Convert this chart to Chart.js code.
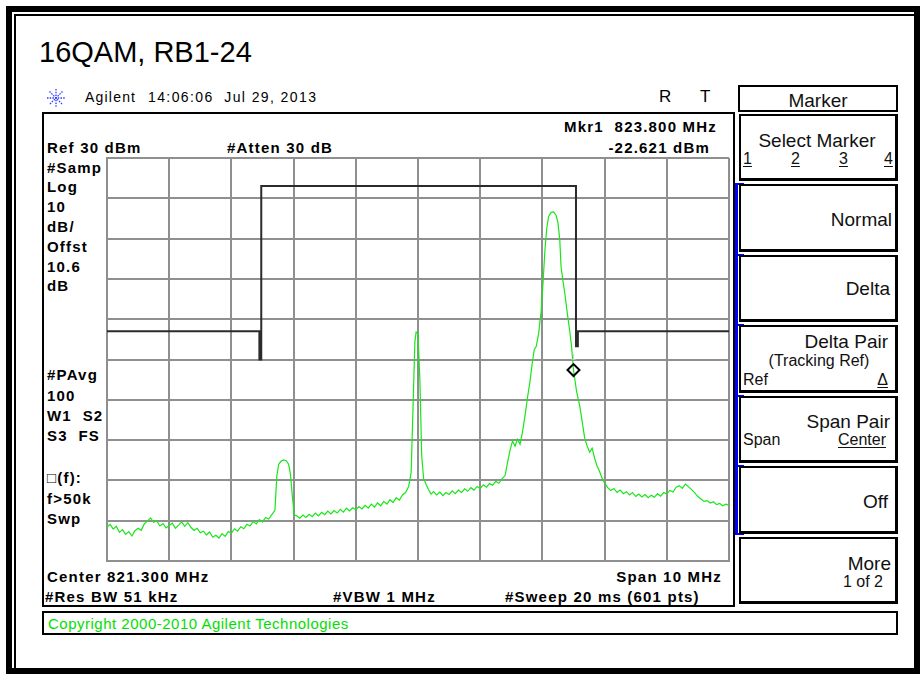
<!DOCTYPE html>
<html>
<head>
<meta charset="utf-8">
<script src="https://cdn.jsdelivr.net/npm/chart.js@4.4.1/dist/chart.umd.min.js"></script>
<style>
html, body { margin: 0; padding: 0; background: #fff; }
#page { position: relative; width: 922px; height: 674px; overflow: hidden; font-family: "Liberation Sans", Arial, sans-serif; color: #000; }
.t { position: absolute; white-space: pre; line-height: 1; }
.b { font-weight: bold; font-size: 15px; letter-spacing: 1.2px; }
.k { font-size: 19px; color: #111; }
.s { font-size: 16px; color: #111; }
.box { position: absolute; box-sizing: border-box; border: 2px solid #000; }
.key { position: absolute; box-sizing: border-box; border: 2px solid #000; border-right-width: 3px; border-bottom-width: 3px; }
.tick { position: absolute; background: #0000ff; height: 2px; width: 9px; left: 735px; }
u { text-decoration: underline; text-underline-offset: 2px; }
#chartWrap { position: absolute; left: 99px; top: 150px; width: 638px; height: 419px; }
</style>
</head>
<body>
<div id="page">
  <!-- outer frame -->
  <div class="box" style="left:6px;top:6px;width:914px;height:668px;border-width:6px;"></div>
  <div style="position:absolute;left:14px;top:14px;width:898px;height:652px;border-left:2px solid #000;border-top:2px solid #000;"></div>

  <div class="t" style="left:39px;top:38px;font-size:29px;">16QAM, RB1-24</div>

  <svg style="position:absolute;left:46px;top:88px" width="20" height="20" viewBox="0 0 20 20">
    <g stroke="#2a3cff" stroke-width="1.3" stroke-dasharray="1.5 1.2" fill="none">
      <line x1="10" y1="1" x2="10" y2="19"/><line x1="1" y1="10" x2="19" y2="10"/>
      <line x1="3.5" y1="3.5" x2="16.5" y2="16.5"/><line x1="16.5" y1="3.5" x2="3.5" y2="16.5"/>
    </g>
  </svg>
  <div class="t" style="left:85px;top:90px;font-size:14px;letter-spacing:1.2px;">Agilent</div>
  <div class="t" style="left:148px;top:90px;font-size:14px;letter-spacing:1.4px;">14:06:06  Jul 29, 2013</div>
  <div class="t" style="left:659px;top:88px;font-size:17px;">R</div>
  <div class="t" style="left:700px;top:88px;font-size:17px;">T</div>

  <!-- instrument screen -->
  <div class="box" style="left:42px;top:112px;width:693px;height:495px;"></div>
  <div class="t b" style="left:47px;top:140px;">Ref 30 dBm</div>
  <div class="t b" style="left:227px;top:140px;">#Atten 30 dB</div>
  <div class="t b" style="right:205px;top:119px;">Mkr1  823.800 MHz</div>
  <div class="t b" style="right:212px;top:140px;">-22.621 dBm</div>

  <div class="t b" style="left:47px;top:160px;">#Samp</div>
  <div class="t b" style="left:47px;top:179px;">Log</div>
  <div class="t b" style="left:47px;top:199px;">10</div>
  <div class="t b" style="left:47px;top:219px;">dB/</div>
  <div class="t b" style="left:47px;top:239px;">Offst</div>
  <div class="t b" style="left:47px;top:259px;">10.6</div>
  <div class="t b" style="left:47px;top:278px;">dB</div>
  <div class="t b" style="left:47px;top:367px;">#PAvg</div>
  <div class="t b" style="left:47px;top:388px;">100</div>
  <div class="t b" style="left:47px;top:408px;">W1  S2</div>
  <div class="t b" style="left:47px;top:428px;">S3  FS</div>
  <div class="t b" style="left:47px;top:470px;">□(f):</div>
  <div class="t b" style="left:47px;top:491px;">f&gt;50k</div>
  <div class="t b" style="left:47px;top:511px;">Swp</div>

  <div class="t b" style="left:47px;top:569px;">Center 821.300 MHz</div>
  <div class="t b" style="right:200px;top:569px;">Span 10 MHz</div>
  <div class="t b" style="left:45px;top:589px;">#Res BW 51 kHz</div>
  <div class="t b" style="left:333px;top:589px;">#VBW 1 MHz</div>
  <div class="t b" style="left:505px;top:589px;">#Sweep 20 ms (601 pts)</div>

  <div class="box" style="left:42px;top:611px;width:856px;height:24px;"></div>
  <div class="t" style="left:48px;top:616px;font-size:15px;letter-spacing:0.5px;color:#00e000;">Copyright 2000-2010 Agilent Technologies</div>

  <!-- softkeys -->
  <div class="box" style="left:738px;top:85px;width:160px;height:27px;"></div>
  <div class="t k" style="left:738px;width:160px;text-align:center;top:91px;">Marker</div>

  <div class="key" style="left:739px;top:114px;width:159px;height:67px;"></div>
  <div class="t k" style="left:739px;width:156px;text-align:center;top:131px;">Select Marker</div>
  <div class="t s" style="left:743px;top:151px;"><u>1</u></div>
  <div class="t s" style="left:791px;top:151px;"><u>2</u></div>
  <div class="t s" style="left:839px;top:151px;"><u>3</u></div>
  <div class="t s" style="left:884px;top:151px;"><u>4</u></div>

  <div style="position:absolute;left:735px;top:183px;width:3px;height:352px;background:#0000ff;"></div>
  <div class="tick" style="top:183px;"></div>
  <div class="tick" style="top:254px;"></div>
  <div class="tick" style="top:324px;"></div>
  <div class="tick" style="top:395px;"></div>
  <div class="tick" style="top:465px;"></div>
  <div class="tick" style="top:533px;"></div>

  <div class="key" style="left:739px;top:184px;width:159px;height:68px;"></div>
  <div class="t k" style="right:30px;top:210px;">Normal</div>

  <div class="key" style="left:739px;top:255px;width:159px;height:67px;"></div>
  <div class="t k" style="right:32px;top:279px;">Delta</div>

  <div class="key" style="left:739px;top:325px;width:159px;height:68px;"></div>
  <div class="t k" style="right:34px;top:332px;">Delta Pair</div>
  <div class="t s" style="left:739px;width:160px;text-align:center;top:353px;">(Tracking Ref)</div>
  <div class="t s" style="left:743px;top:372px;">Ref</div>
  <div class="t s" style="right:34px;top:372px;"><u>Δ</u></div>

  <div class="key" style="left:739px;top:396px;width:159px;height:67px;"></div>
  <div class="t k" style="right:32px;top:412px;">Span Pair</div>
  <div class="t s" style="left:743px;top:432px;">Span</div>
  <div class="t s" style="right:36px;top:432px;"><u>Center</u></div>

  <div class="key" style="left:739px;top:466px;width:159px;height:68px;"></div>
  <div class="t k" style="right:34px;top:492px;">Off</div>

  <div class="key" style="left:739px;top:537px;width:159px;height:67px;"></div>
  <div class="t k" style="right:31px;top:554px;">More</div>
  <div class="t s" style="right:39px;top:574px;">1 of 2</div>

  <div id="chartWrap"><canvas id="specChart" width="638" height="419"></canvas></div>
</div>

<script>
// Analyzer settings
var centerMHz = 821.3;
var spanMHz = 10;
var refLevel = 30;
var dbPerDiv = 10;
var divisions = 10;

// Trace 1 (MHz / dBm)
var traceFreq = [
  816.30, 816.35, 816.40, 816.45, 816.50, 816.55, 816.60, 816.65, 816.70, 816.75,
  816.80, 816.85, 816.90, 816.95, 817.00, 817.05, 817.10, 817.15, 817.20, 817.25,
  817.30, 817.35, 817.40, 817.45, 817.50, 817.55, 817.60, 817.65, 817.70, 817.75,
  817.80, 817.85, 817.90, 817.95, 818.00, 818.05, 818.10, 818.15, 818.20, 818.25,
  818.30, 818.35, 818.40, 818.45, 818.50, 818.55, 818.60, 818.65, 818.70, 818.75,
  818.80, 818.85, 818.90, 818.95, 819.00, 819.03, 819.06, 819.10, 819.14, 819.18,
  819.22, 819.25, 819.28, 819.31, 819.35, 819.40, 819.45, 819.50, 819.55, 819.60,
  819.65, 819.70, 819.75, 819.80, 819.85, 819.90, 819.95, 820.00, 820.05, 820.10,
  820.15, 820.20, 820.25, 820.30, 820.35, 820.40, 820.45, 820.50, 820.55, 820.60,
  820.65, 820.70, 820.75, 820.80, 820.85, 820.90, 820.95, 821.00, 821.05, 821.10,
  821.15, 821.19, 821.22, 821.25, 821.27, 821.30, 821.33, 821.36, 821.39, 821.43,
  821.47, 821.51, 821.55, 821.60, 821.65, 821.70, 821.75, 821.80, 821.85, 821.90,
  821.95, 822.00, 822.05, 822.10, 822.15, 822.20, 822.25, 822.30, 822.35, 822.40,
  822.45, 822.50, 822.55, 822.60, 822.65, 822.70, 822.74, 822.78, 822.82, 822.86,
  822.90, 822.94, 822.98, 823.02, 823.06, 823.10, 823.14, 823.17, 823.20, 823.24,
  823.28, 823.31, 823.34, 823.37, 823.40, 823.44, 823.48, 823.52, 823.55, 823.58,
  823.60, 823.63, 823.66, 823.70, 823.74, 823.77, 823.80, 823.85, 823.90, 823.94,
  823.98, 824.02, 824.06, 824.10, 824.14, 824.18, 824.22, 824.26, 824.30, 824.35,
  824.40, 824.45, 824.50, 824.55, 824.60, 824.65, 824.70, 824.75, 824.80, 824.85,
  824.90, 824.95, 825.00, 825.05, 825.10, 825.15, 825.20, 825.25, 825.30, 825.35,
  825.40, 825.45, 825.50, 825.55, 825.60, 825.65, 825.70, 825.75, 825.80, 825.85,
  825.90, 825.95, 826.00, 826.05, 826.10, 826.15, 826.20, 826.25, 826.30
];
var traceLevel = [
  -61.6, -60.9, -62.1, -61.4, -62.9, -62.2, -63.4, -62.7, -63.8, -62.5,
  -61.9, -62.4, -60.8, -60.1, -59.3, -60.4, -60.0, -61.3, -60.7, -61.8,
  -61.2, -60.6, -61.9, -61.1, -60.3, -61.4, -60.5, -61.7, -62.4, -61.9,
  -63.0, -62.6, -63.5, -62.8, -64.1, -63.6, -64.3, -63.2, -63.9, -62.7,
  -63.1, -62.0, -62.6, -61.5, -62.0, -60.9, -61.3, -60.2, -60.8, -59.7,
  -60.3, -59.2, -59.6, -58.5, -57.4, -49.0, -46.0, -45.2, -44.9, -45.1,
  -46.0, -48.5, -54.0, -58.6, -58.8, -59.4, -58.6, -59.2, -58.4, -59.0,
  -58.1, -58.8, -57.9, -58.5, -57.6, -58.3, -57.5, -58.1, -57.2, -57.9,
  -56.9, -57.6, -56.8, -57.3, -56.5, -57.1, -56.2, -56.9, -55.9, -56.6,
  -55.6, -56.3, -55.2, -55.9, -54.8, -55.5, -54.3, -54.9, -53.6, -53.0,
  -51.5, -48.0, -32.0, -15.5, -13.2, -13.5, -25.0, -44.0, -49.5, -51.0,
  -52.3, -53.4, -52.8, -53.6, -52.9, -53.8, -53.0, -53.5, -52.6, -53.3,
  -52.4, -53.0, -52.1, -52.7, -51.8, -52.4, -51.5, -52.0, -51.1, -51.7,
  -50.8, -51.2, -50.2, -50.7, -49.6, -48.8, -45.5, -42.5, -40.2, -41.5,
  -39.8, -41.0, -38.0, -34.0, -29.5, -25.5, -20.5, -17.5, -16.8, -13.5,
  -8.0, -1.0, 7.0, 12.5, 15.5, 16.5, 16.6, 15.8, 14.0, 9.5,
  3.0, -0.5, -3.5, -8.5, -13.0, -17.0, -22.6, -28.0, -31.5, -35.5,
  -39.5, -41.5, -43.0, -42.0, -44.5, -46.5, -47.8, -49.5, -50.6, -51.8,
  -52.5, -52.0, -53.0, -52.4, -53.3, -52.8, -53.6, -53.0, -54.0, -53.4,
  -54.1, -53.5, -54.3, -53.7, -54.2, -53.3, -53.9, -53.0, -53.4, -52.5,
  -52.9, -51.7, -51.3, -52.0, -50.9, -51.6, -52.3, -53.1, -54.0, -54.6,
  -55.2, -55.0, -55.6, -55.3, -56.0, -55.7, -56.3, -55.9, -56.2
];

// Limit line (MHz / dBm)
var limitFreq = [816.3, 818.75, 818.75, 818.78, 818.78, 823.84, 823.84, 823.87, 823.87, 826.3];
var limitLevel = [-13, -13, -20, -20, 23.05, 23.05, -16.7, -16.7, -13, -13];

// Marker 1
var markerFreq = [823.8];
var markerLevel = [-22.621];

var startMHz = centerMHz - spanMHz / 2;
var stopMHz = centerMHz + spanMHz / 2;
var bottomLevel = refLevel - dbPerDiv * divisions;

function toPoints(xs, ys) {
    return xs.map(function (x, i) { return { x: x, y: ys[i] }; });
}

var gridColor = '#8f8f8f';

// small "1" label above the marker diamond
var markerLabel = {
    id: 'markerLabel',
    afterDatasetsDraw: function (chart) {
        var ctx = chart.ctx;
        var x = chart.scales.x.getPixelForValue(markerFreq[0]);
        var y = chart.scales.y.getPixelForValue(markerLevel[0]);
        ctx.save();
        ctx.fillStyle = '#c8c8c8';
        ctx.font = '9px "Liberation Sans", Arial';
        ctx.textAlign = 'center';
        ctx.fillText('1', x, y - 10);
        ctx.restore();
    }
};

var ctxSpec = document.getElementById('specChart').getContext('2d');
var specChart = new Chart(ctxSpec, {
    type: 'line',
    data: {
        datasets: [{
            label: 'Marker 1',
            data: toPoints(markerFreq, markerLevel),
            showLine: false,
            pointStyle: 'rectRot',
            pointRadius: 6,
            pointBorderWidth: 2,
            pointBorderColor: '#000',
            pointBackgroundColor: 'rgba(255,255,255,0)',
            order: 0
        }, {
            label: 'Trace 1',
            data: toPoints(traceFreq, traceLevel),
            borderColor: '#19e619',
            borderWidth: 1.2,
            pointRadius: 0,
            tension: 0,
            order: 1
        }, {
            label: 'Limit',
            data: toPoints(limitFreq, limitLevel),
            borderColor: '#2b2b2b',
            borderWidth: 2,
            pointRadius: 0,
            tension: 0,
            order: 2
        }]
    },
    options: {
        responsive: false,
        animation: false,
        layout: { padding: 2 },
        plugins: {
            legend: { display: false },
            tooltip: { enabled: false }
        },
        scales: {
            x: {
                type: 'linear',
                min: startMHz,
                max: stopMHz,
                afterBuildTicks: function (scale) {
                    var t = [];
                    for (var i = 0; i <= divisions; i++) t.push({ value: startMHz + i * spanMHz / divisions });
                    scale.ticks = t;
                },
                ticks: { display: false },
                grid: { color: gridColor, lineWidth: 2, drawTicks: false },
                border: { display: true, color: gridColor, width: 2 }
            },
            y: {
                min: bottomLevel,
                max: refLevel,
                afterBuildTicks: function (scale) {
                    var t = [];
                    for (var i = 0; i <= divisions; i++) t.push({ value: bottomLevel + i * dbPerDiv });
                    scale.ticks = t;
                },
                ticks: { display: false },
                grid: { color: gridColor, lineWidth: 2, drawTicks: false },
                border: { display: true, color: gridColor, width: 2 }
            }
        }
    },
    plugins: [markerLabel]
});
</script>
</body>
</html>
